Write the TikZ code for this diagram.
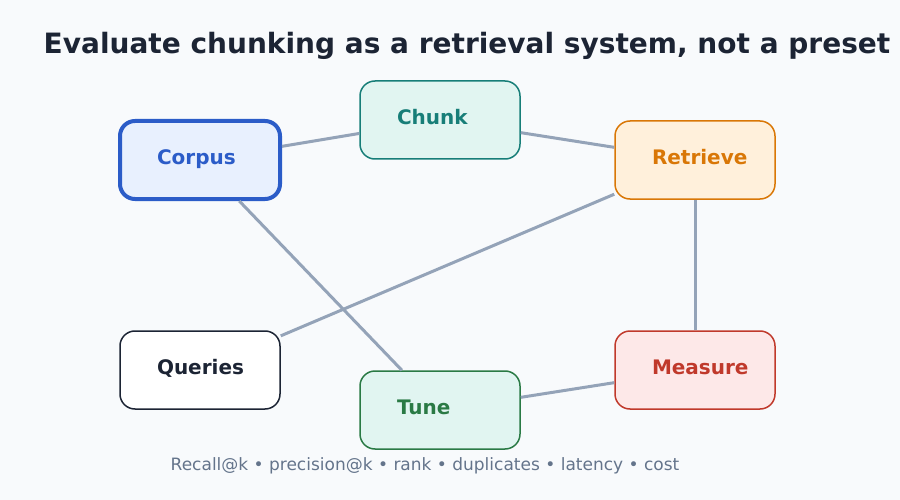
\documentclass[tikz,border=0pt]{standalone}
\usepackage{fontspec}
\setmainfont{DejaVu Sans}
\usepackage{xcolor}
\usetikzlibrary{positioning}
\definecolor{bgc}{HTML}{F8FAFC}
\definecolor{ink}{HTML}{1C2434}
\definecolor{edgec}{HTML}{94A3B8}
\definecolor{footc}{HTML}{64748B}
\definecolor{cblue}{HTML}{2B5CC8}
\definecolor{cteal}{HTML}{177E78}
\definecolor{corange}{HTML}{D97706}
\definecolor{cgreen}{HTML}{2A7A45}
\definecolor{cred}{HTML}{C0392B}
\definecolor{fblue}{HTML}{E8F0FE}
\definecolor{fteal}{HTML}{E1F5F1}
\definecolor{forange}{HTML}{FFF0DB}
\definecolor{fred}{HTML}{FDE8E8}

\begin{document}
\begin{tikzpicture}[
  x=1pt, y=-1pt,
  stage/.style={rectangle, rounded corners=15pt, line width=1.5pt,
                minimum width=160pt, minimum height=78pt,
                text width=86pt, inner xsep=37pt, align=left,
                text height=15pt, text depth=6pt,
                font=\fontsize{20}{24}\selectfont\bfseries},
  edge/.style={draw=edgec, line width=3pt}
]
  \fill[bgc] (0,0) rectangle (900,500);
  \useasboundingbox (0,0) rectangle (900,500);

  \node[font=\fontsize{28}{32}\selectfont\bfseries, text=ink] (title) at (467,46)
    {Evaluate chunking as a retrieval system, not a preset};

  \node[stage, draw=cblue, fill=fblue, text=cblue, line width=4pt] (corpus) at (200,160) {Corpus};
  \node[stage, draw=cteal, fill=fteal, text=cteal] (chunk) at (440,120) {Chunk};
  \node[stage, draw=corange, fill=forange, text=corange] (retrieve) at (695,160) {Retrieve};
  \node[stage, draw=ink, fill=white, text=ink] (queries) at (200,370) {Queries};
  \node[stage, draw=cgreen, fill=fteal, text=cgreen] (tune) at (440,410) {Tune};
  \node[stage, draw=cred, fill=fred, text=cred, below=130.5pt of retrieve] (measure) {Measure};

  \node[font=\fontsize{17}{20}\selectfont, text=footc] (metrics) at (425,466)
    {Recall@k • precision@k • rank • duplicates • latency • cost};

  \draw[edge] (corpus)--(chunk);
  \draw[edge] (chunk)--(retrieve);
  \draw[edge] (retrieve)--(queries);
  \draw[edge] (retrieve)--(measure);
  \draw[edge] (corpus)--(tune);
  \draw[edge] (tune)--(measure);
\end{tikzpicture}
\end{document}
